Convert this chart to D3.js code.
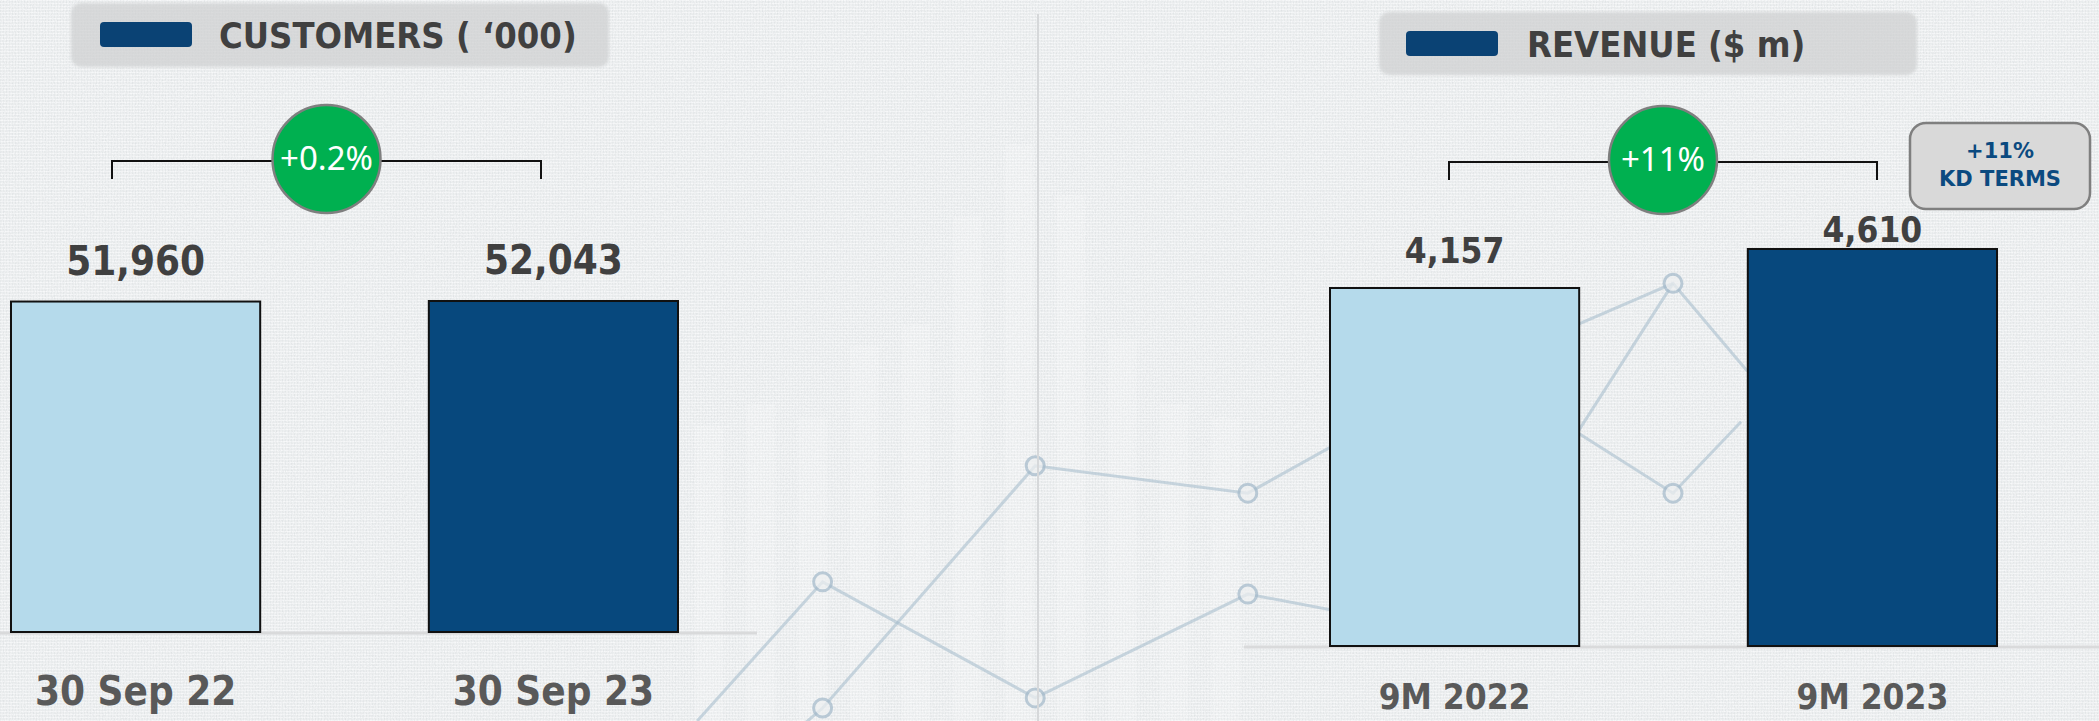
<!DOCTYPE html>
<html>
<head>
<meta charset="utf-8">
<script src="https://cdn.jsdelivr.net/npm/d3@7"></script>
<style>
  html, body { margin: 0; padding: 0; background: #eff1f2; overflow: hidden; }
  svg { display: block; }
</style>
</head>
<body>
<svg id="chart" width="2099" height="721"></svg>
<script>
// ---- data ----
const customerPeriods = ["30 Sep 22", "30 Sep 23"];
const customerValues = [51960, 52043];
const customerTitle = "CUSTOMERS ( \u2018000)";
const customerChange = "+0.2%";

const revenuePeriods = ["9M 2022", "9M 2023"];
const revenueValues = [4157, 4610];
const revenueTitle = "REVENUE ($ m)";
const revenueChange = "+11%";
const kdNoteLines = ["+11%", "KD TERMS"];

const barColors = ["#b5daeb", "#07487d"];

// decorative backdrop: faint columns and two trend lines
const backdropBarValues = [41, 44, 42, 52, 55, 70, 80, 73, 53, 44, 42];
const backdropLineA = [[0.41, 0], [1, 19.3], [2, 3.2], [3, 17.6], [4, 12]];
const backdropLineB = [[0.85, -2], [1, 1.8], [2, 35.4], [3, 31.6], [4, 48], [5, 60.7], [5.35, 48.5]];
const backdropLineC = [[5, 60.7], [4.55, 40], [5, 31.6], [5.32, 41.5]];
const backdropMarkers = [[1, 19.3], [2, 3.2], [3, 17.6], [1, 1.8], [2, 35.4], [3, 31.6], [5, 60.7], [5, 31.6]];

// ---- layout ----
const W = 2099, H = 721;
const svg = d3.select("#chart");
const fmt = d3.format(",");
const BOLD = "'DejaVu Sans', 'Liberation Sans', sans-serif";
const CONDENSE = 0.9;

const panels = [
  {
    periods: customerPeriods, values: customerValues, title: customerTitle, change: customerChange,
    xRange: [11, 678], baseline: 632, yMax: 60000, yTop: 250.4,
    labelGaps: [27, 27], valueSize: 40, catSize: 40, catOffset: 73,
    axisLine: [0, 757],
    titleBox: [71, 3, 538, 64], swatch: [100, 22, 92, 25], titleX: 219, titleY: 48,
    bracket: [112, 541, 161, 179]
  },
  {
    periods: revenuePeriods, values: revenueValues, title: revenueTitle, change: revenueChange,
    xRange: [1330, 1997], baseline: 646, yMax: 5000, yTop: 215.4,
    labelGaps: [25, 7], valueSize: 35, catSize: 35, catOffset: 63,
    axisLine: [1244, 2099],
    titleBox: [1379, 12, 538, 63], swatch: [1406, 31, 92, 25], titleX: 1527, titleY: 57,
    bracket: [1449, 1877, 162, 180]
  }
];

// ---- background texture ----
const defs = svg.append("defs");
const grain = defs.append("filter").attr("id", "grain")
  .attr("x", 0).attr("y", 0).attr("width", "100%").attr("height", "100%");
grain.append("feTurbulence").attr("type", "fractalNoise")
  .attr("baseFrequency", "0.9 0.6").attr("numOctaves", 2).attr("seed", 7);
grain.append("feColorMatrix").attr("type", "matrix")
  .attr("values", "0 0 0 0 0.50  0 0 0 0 0.53  0 0 0 0 0.56  0.45 0 0 0 -0.17");

const weave = defs.append("pattern").attr("id", "weave")
  .attr("width", 3).attr("height", 3).attr("patternUnits", "userSpaceOnUse");
weave.append("rect").attr("width", 1).attr("height", 3).attr("fill", "#6a7480").attr("opacity", 0.05);
weave.append("rect").attr("width", 3).attr("height", 1).attr("fill", "#ffffff").attr("opacity", 0.5);

const shadow = defs.append("filter").attr("id", "soft")
  .attr("x", "-5%").attr("y", "-20%").attr("width", "110%").attr("height", "140%");
shadow.append("feGaussianBlur").attr("stdDeviation", 1.6);

svg.append("rect").attr("width", W).attr("height", H).attr("fill", "#eff1f2");
svg.append("rect").attr("width", W).attr("height", H).attr("fill", "url(#weave)");
svg.append("rect").attr("width", W).attr("height", H).attr("filter", "url(#grain)");

// ---- decorative backdrop ----
const bx = d3.scaleLinear().domain([0, 5]).range([610, 1673]);
const by = d3.scaleLinear().domain([0, 100]).range([H, 0]);
const bBand = d3.scaleBand().domain(d3.range(backdropBarValues.length))
  .range([695, 1240]).paddingInner(0.45);

const backdrop = svg.append("g").attr("class", "backdrop");
backdrop.selectAll("rect.ghost")
  .data(backdropBarValues)
  .join("rect")
  .attr("class", "ghost")
  .attr("x", (d, i) => bBand(i))
  .attr("width", bBand.bandwidth())
  .attr("y", d => by(d))
  .attr("height", d => H - by(d))
  .attr("fill", "#ffffff")
  .attr("opacity", 0.16);

const bLine = d3.line().x(d => bx(d[0])).y(d => by(d[1]));
backdrop.selectAll("path.trend")
  .data([backdropLineA, backdropLineB, backdropLineC])
  .join("path")
  .attr("class", "trend")
  .attr("d", bLine)
  .attr("fill", "none")
  .attr("stroke", "#a3b9ca")
  .attr("stroke-width", 3)
  .attr("opacity", 0.55);
backdrop.selectAll("circle.node")
  .data(backdropMarkers)
  .join("circle")
  .attr("class", "node")
  .attr("cx", d => bx(d[0]))
  .attr("cy", d => by(d[1]))
  .attr("r", 9)
  .attr("fill", "#eef0f1")
  .attr("stroke", "#a3b9ca")
  .attr("stroke-width", 3)
  .attr("opacity", 0.7);

// divider between the two panels
svg.append("line")
  .attr("x1", 1038).attr("x2", 1038).attr("y1", 14).attr("y2", H)
  .attr("stroke", "#d6d8da").attr("stroke-width", 2);

// ---- panels ----
panels.forEach(p => {
  const g = svg.append("g");
  const x = d3.scaleBand().domain(p.periods).range(p.xRange).paddingInner(0.4036).paddingOuter(0);
  const y = d3.scaleLinear().domain([0, p.yMax]).range([p.baseline, p.yTop]);

  // baseline rule
  g.append("line")
    .attr("x1", p.axisLine[0]).attr("x2", p.axisLine[1])
    .attr("y1", p.baseline + 1).attr("y2", p.baseline + 1)
    .attr("stroke", "#d9dadb").attr("stroke-width", 3);

  // bars
  g.selectAll("rect.bar")
    .data(p.values)
    .join("rect")
    .attr("class", "bar")
    .attr("x", (d, i) => x(p.periods[i]))
    .attr("width", x.bandwidth())
    .attr("y", d => y(d))
    .attr("height", d => y(0) - y(d))
    .attr("fill", (d, i) => barColors[i])
    .attr("stroke", "#111")
    .attr("stroke-width", 2);

  // value labels
  g.selectAll("g.value")
    .data(p.values)
    .join("g")
    .attr("class", "value")
    .attr("transform", (d, i) =>
      `translate(${x(p.periods[i]) + x.bandwidth() / 2},${y(d) - p.labelGaps[i]}) scale(${CONDENSE},1)`)
    .append("text")
    .attr("text-anchor", "middle")
    .attr("font-family", BOLD)
    .attr("font-weight", 700)
    .attr("font-size", p.valueSize)
    .attr("fill", "#404040")
    .text(d => fmt(d));

  // category axis
  const axis = g.append("g")
    .attr("transform", `translate(0,${p.baseline})`)
    .call(d3.axisBottom(x).tickSize(0).tickPadding(0));
  axis.select(".domain").remove();
  axis.selectAll("text")
    .attr("y", p.catOffset)
    .attr("dy", 0)
    .attr("transform", `scale(${CONDENSE},1)`)
    .attr("font-family", BOLD)
    .attr("font-weight", 700)
    .attr("font-size", p.catSize)
    .attr("fill", "#595959");

  // title plate
  const [tx, ty, tw, th] = p.titleBox;
  g.append("rect")
    .attr("x", tx).attr("y", ty).attr("width", tw).attr("height", th)
    .attr("rx", 10)
    .attr("fill", "#cfd0d1").attr("opacity", 0.72)
    .attr("filter", "url(#soft)");
  const [sx, sy, sw, sh] = p.swatch;
  g.append("rect")
    .attr("x", sx).attr("y", sy).attr("width", sw).attr("height", sh)
    .attr("rx", 4).attr("fill", "#0a4274");
  g.append("g")
    .attr("transform", `translate(${p.titleX},${p.titleY}) scale(${CONDENSE},1)`)
    .append("text")
    .attr("font-family", BOLD)
    .attr("font-weight", 700)
    .attr("font-size", 36)
    .attr("fill", "#404040")
    .text(p.title);

  // growth bracket and badge
  const [bx1, bx2, byTop, byEnd] = p.bracket;
  g.append("path")
    .attr("d", `M${bx1},${byEnd}V${byTop}H${bx2}V${byEnd}`)
    .attr("fill", "none")
    .attr("stroke", "#111")
    .attr("stroke-width", 2);
  const cx = (bx1 + bx2) / 2;
  g.append("circle")
    .attr("cx", cx).attr("cy", byTop - 2)
    .attr("r", 54)
    .attr("fill", "#00b050")
    .attr("stroke", "#7f7f7f")
    .attr("stroke-width", 2.5);
  g.append("text")
    .attr("x", cx).attr("y", byTop + 9)
    .attr("text-anchor", "middle")
    .attr("font-family", "'Noto Sans', 'Open Sans', sans-serif")
    .attr("font-size", 33)
    .attr("fill", "#ffffff")
    .text(p.change);
});

// ---- KD terms note ----
const note = svg.append("g");
note.append("rect")
  .attr("x", 1910).attr("y", 123).attr("width", 180).attr("height", 86)
  .attr("rx", 16)
  .attr("fill", "#d9d9d9")
  .attr("stroke", "#7f7f7f")
  .attr("stroke-width", 2.5);
note.selectAll("text")
  .data(kdNoteLines)
  .join("text")
  .attr("x", 2000)
  .attr("y", (d, i) => 158 + i * 28)
  .attr("text-anchor", "middle")
  .attr("font-family", BOLD)
  .attr("font-weight", 700)
  .attr("font-size", 21)
  .attr("fill", "#0b4a80")
  .text(d => d);
</script>
</body>
</html>
